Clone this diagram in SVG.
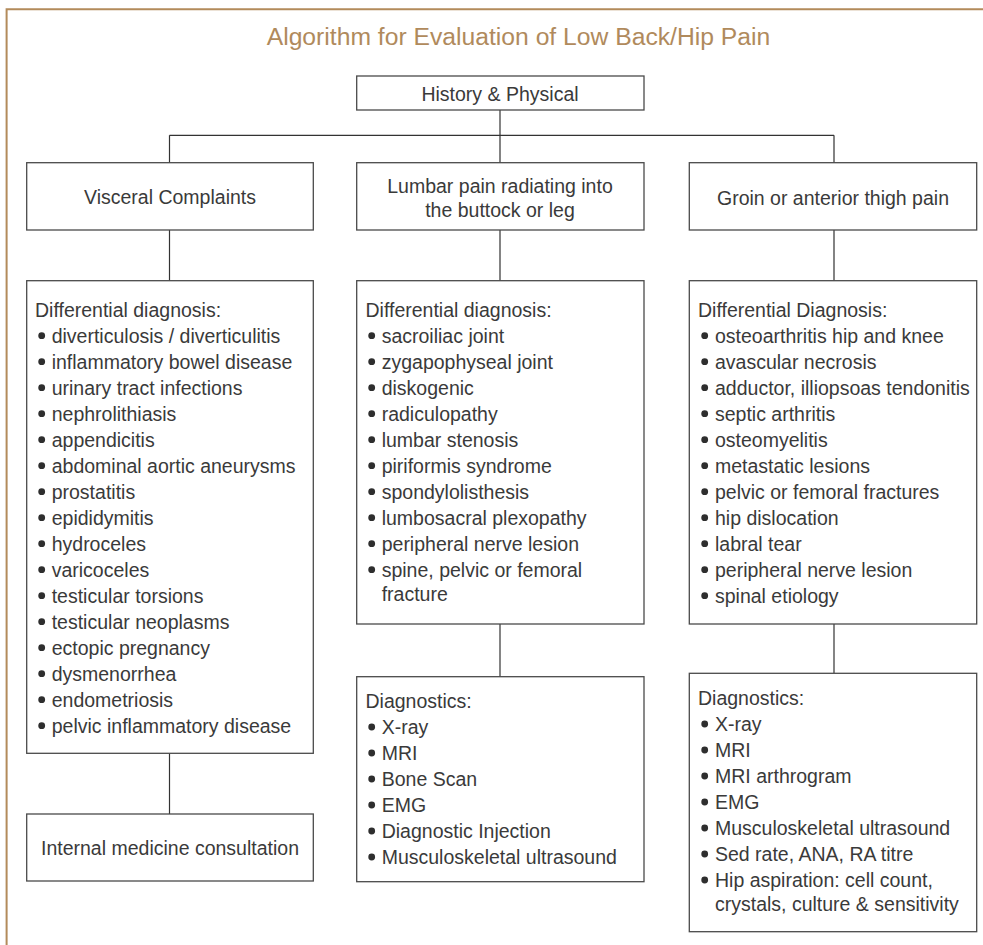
<svg xmlns="http://www.w3.org/2000/svg" width="983" height="945" viewBox="0 0 983 945">
  <style>
    .frame { fill: none; stroke: #b38b5b; stroke-width: 2; }
    .title { font-family: "Liberation Sans", Arial, sans-serif; font-size: 24.7px; fill: #b08a5c; text-anchor: middle; }
    .box { fill: #ffffff; stroke: #4a4a4a; stroke-width: 1.3; }
    .link { fill: none; stroke: #333333; stroke-width: 1.2; }
    .t { font-family: "Liberation Sans", Arial, sans-serif; font-size: 19.5px; fill: #3a3a3a; }
    .c { text-anchor: middle; }
    .dot { fill: #2e2e2e; }
  </style>
  <defs>
    <circle id="bullet" r="3.4"/>
  </defs>

  <rect width="983" height="945" fill="#ffffff"/>

  <!-- page frame (open to the right and bottom) -->
  <path class="frame" d="M6.6 945 V9.3 H983"/>

  <text class="title" x="518.5" y="45">Algorithm for Evaluation of Low Back/Hip Pain</text>

  <!-- connectors -->
  <g id="connectors">
    <path class="link" d="M500 110 V135.3"/>
    <path class="link" d="M169.5 135.3 H834"/>
    <path class="link" d="M169.5 135.3 V162.7 M500 135.3 V162.7 M834 135.3 V162.7"/>
    <path class="link" d="M169.5 230 V280.7 M500 230 V280.7 M834 230 V280.7"/>
    <path class="link" d="M169.5 753.3 V814"/>
    <path class="link" d="M500 624 V676.7"/>
    <path class="link" d="M834 624 V673.3"/>
  </g>

  <g id="history">
    <rect class="box" x="356.7" y="76" width="287.3" height="34"/>
    <text class="t c" x="500" y="100.5">History &amp; Physical</text>
  </g>

  <g id="visceral">
    <rect class="box" x="26.7" y="162.7" width="286.6" height="67.3"/>
    <text class="t c" x="170" y="204">Visceral Complaints</text>
  </g>

  <g id="lumbar">
    <rect class="box" x="356.7" y="162.7" width="287.3" height="67.3"/>
    <text class="t c" x="500" y="192.7">Lumbar pain radiating into</text>
    <text class="t c" x="500" y="216.7">the buttock or leg</text>
  </g>

  <g id="groin">
    <rect class="box" x="689.3" y="162.7" width="287.4" height="67.3"/>
    <text class="t c" x="833" y="204.5">Groin or anterior thigh pain</text>
  </g>

  <g id="diff-visceral">
    <rect class="box" x="26.7" y="280.7" width="286.6" height="472.6"/>
    <text class="t" x="35" y="316.7">Differential diagnosis:</text>
    <g class="dot">
      <use href="#bullet" x="41.7" y="335.7"/>
      <use href="#bullet" x="41.7" y="361.7"/>
      <use href="#bullet" x="41.7" y="387.7"/>
      <use href="#bullet" x="41.7" y="413.7"/>
      <use href="#bullet" x="41.7" y="439.7"/>
      <use href="#bullet" x="41.7" y="465.7"/>
      <use href="#bullet" x="41.7" y="491.7"/>
      <use href="#bullet" x="41.7" y="517.7"/>
      <use href="#bullet" x="41.7" y="543.7"/>
      <use href="#bullet" x="41.7" y="569.7"/>
      <use href="#bullet" x="41.7" y="595.7"/>
      <use href="#bullet" x="41.7" y="621.7"/>
      <use href="#bullet" x="41.7" y="647.7"/>
      <use href="#bullet" x="41.7" y="673.7"/>
      <use href="#bullet" x="41.7" y="699.7"/>
      <use href="#bullet" x="41.7" y="725.7"/>
    </g>
    <text class="t" x="51.7" y="342.7">diverticulosis / diverticulitis</text>
    <text class="t" x="51.7" y="368.7">inflammatory bowel disease</text>
    <text class="t" x="51.7" y="394.7">urinary tract infections</text>
    <text class="t" x="51.7" y="420.7">nephrolithiasis</text>
    <text class="t" x="51.7" y="446.7">appendicitis</text>
    <text class="t" x="51.7" y="472.7">abdominal aortic aneurysms</text>
    <text class="t" x="51.7" y="498.7">prostatitis</text>
    <text class="t" x="51.7" y="524.7">epididymitis</text>
    <text class="t" x="51.7" y="550.7">hydroceles</text>
    <text class="t" x="51.7" y="576.7">varicoceles</text>
    <text class="t" x="51.7" y="602.7">testicular torsions</text>
    <text class="t" x="51.7" y="628.7">testicular neoplasms</text>
    <text class="t" x="51.7" y="654.7">ectopic pregnancy</text>
    <text class="t" x="51.7" y="680.7">dysmenorrhea</text>
    <text class="t" x="51.7" y="706.7">endometriosis</text>
    <text class="t" x="51.7" y="732.7">pelvic inflammatory disease</text>
  </g>

  <g id="diff-lumbar">
    <rect class="box" x="356.7" y="280.7" width="287.3" height="343.3"/>
    <text class="t" x="365.5" y="316.7">Differential diagnosis:</text>
    <g class="dot">
      <use href="#bullet" x="371.7" y="335.7"/>
      <use href="#bullet" x="371.7" y="361.7"/>
      <use href="#bullet" x="371.7" y="387.7"/>
      <use href="#bullet" x="371.7" y="413.7"/>
      <use href="#bullet" x="371.7" y="439.7"/>
      <use href="#bullet" x="371.7" y="465.7"/>
      <use href="#bullet" x="371.7" y="491.7"/>
      <use href="#bullet" x="371.7" y="517.7"/>
      <use href="#bullet" x="371.7" y="543.7"/>
      <use href="#bullet" x="371.7" y="569.7"/>
    </g>
    <text class="t" x="381.7" y="342.7">sacroiliac joint</text>
    <text class="t" x="381.7" y="368.7">zygapophyseal joint</text>
    <text class="t" x="381.7" y="394.7">diskogenic</text>
    <text class="t" x="381.7" y="420.7">radiculopathy</text>
    <text class="t" x="381.7" y="446.7">lumbar stenosis</text>
    <text class="t" x="381.7" y="472.7">piriformis syndrome</text>
    <text class="t" x="381.7" y="498.7">spondylolisthesis</text>
    <text class="t" x="381.7" y="524.7">lumbosacral plexopathy</text>
    <text class="t" x="381.7" y="550.7">peripheral nerve lesion</text>
    <text class="t" x="381.7" y="576.7">spine, pelvic or femoral</text>
    <text class="t" x="381.7" y="601.2">fracture</text>
  </g>

  <g id="diff-groin">
    <rect class="box" x="689.3" y="280.7" width="287.4" height="343.3"/>
    <text class="t" x="698" y="316.7">Differential Diagnosis:</text>
    <g class="dot">
      <use href="#bullet" x="704.7" y="335.7"/>
      <use href="#bullet" x="704.7" y="361.7"/>
      <use href="#bullet" x="704.7" y="387.7"/>
      <use href="#bullet" x="704.7" y="413.7"/>
      <use href="#bullet" x="704.7" y="439.7"/>
      <use href="#bullet" x="704.7" y="465.7"/>
      <use href="#bullet" x="704.7" y="491.7"/>
      <use href="#bullet" x="704.7" y="517.7"/>
      <use href="#bullet" x="704.7" y="543.7"/>
      <use href="#bullet" x="704.7" y="569.7"/>
      <use href="#bullet" x="704.7" y="595.7"/>
    </g>
    <text class="t" x="715" y="342.7">osteoarthritis hip and knee</text>
    <text class="t" x="715" y="368.7">avascular necrosis</text>
    <text class="t" x="715" y="394.7">adductor, illiopsoas tendonitis</text>
    <text class="t" x="715" y="420.7">septic arthritis</text>
    <text class="t" x="715" y="446.7">osteomyelitis</text>
    <text class="t" x="715" y="472.7">metastatic lesions</text>
    <text class="t" x="715" y="498.7">pelvic or femoral fractures</text>
    <text class="t" x="715" y="524.7">hip dislocation</text>
    <text class="t" x="715" y="550.7">labral tear</text>
    <text class="t" x="715" y="576.7">peripheral nerve lesion</text>
    <text class="t" x="715" y="602.7">spinal etiology</text>
  </g>

  <g id="internal-medicine">
    <rect class="box" x="26.7" y="814" width="286.6" height="67"/>
    <text class="t c" x="170" y="854.5">Internal medicine consultation</text>
  </g>

  <g id="diag-lumbar">
    <rect class="box" x="356.7" y="676.7" width="287.3" height="205"/>
    <text class="t" x="365.5" y="708">Diagnostics:</text>
    <g class="dot">
      <use href="#bullet" x="371.7" y="727"/>
      <use href="#bullet" x="371.7" y="753"/>
      <use href="#bullet" x="371.7" y="779"/>
      <use href="#bullet" x="371.7" y="805"/>
      <use href="#bullet" x="371.7" y="831"/>
      <use href="#bullet" x="371.7" y="857"/>
    </g>
    <text class="t" x="381.7" y="734">X-ray</text>
    <text class="t" x="381.7" y="760">MRI</text>
    <text class="t" x="381.7" y="786">Bone Scan</text>
    <text class="t" x="381.7" y="812">EMG</text>
    <text class="t" x="381.7" y="838">Diagnostic Injection</text>
    <text class="t" x="381.7" y="864">Musculoskeletal ultrasound</text>
  </g>

  <g id="diag-groin">
    <rect class="box" x="689.3" y="673.3" width="287.4" height="258.4"/>
    <text class="t" x="698" y="705">Diagnostics:</text>
    <g class="dot">
      <use href="#bullet" x="704.7" y="724"/>
      <use href="#bullet" x="704.7" y="750"/>
      <use href="#bullet" x="704.7" y="776"/>
      <use href="#bullet" x="704.7" y="802"/>
      <use href="#bullet" x="704.7" y="828"/>
      <use href="#bullet" x="704.7" y="854"/>
      <use href="#bullet" x="704.7" y="880"/>
    </g>
    <text class="t" x="715" y="731">X-ray</text>
    <text class="t" x="715" y="757">MRI</text>
    <text class="t" x="715" y="783">MRI arthrogram</text>
    <text class="t" x="715" y="809">EMG</text>
    <text class="t" x="715" y="835">Musculoskeletal ultrasound</text>
    <text class="t" x="715" y="861">Sed rate, ANA, RA titre</text>
    <text class="t" x="715" y="887">Hip aspiration: cell count,</text>
    <text class="t" x="715" y="911">crystals, culture &amp; sensitivity</text>
  </g>
</svg>
